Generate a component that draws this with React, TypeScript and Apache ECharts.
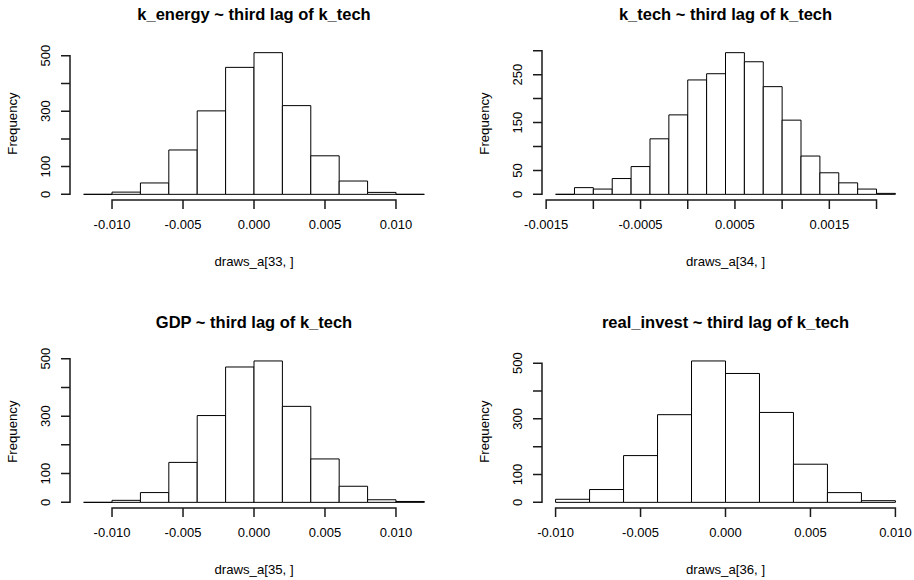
import React, { useEffect, useRef } from "react";
import * as echarts from "echarts";

const FONT = '"Liberation Sans", Arial, Helvetica, sans-serif';

// ---- data ----
const breaks33 = [-0.012, -0.01, -0.008, -0.006, -0.004, -0.002, 0, 0.002, 0.004, 0.006, 0.008, 0.01, 0.012];
const counts33 = [0, 8, 41, 160, 301, 458, 511, 320, 139, 48, 7, 0];

const breaks34 = [
  -0.0014, -0.0012, -0.001, -0.0008, -0.0006, -0.0004, -0.0002, 0, 0.0002, 0.0004,
  0.0006, 0.0008, 0.001, 0.0012, 0.0014, 0.0016, 0.0018, 0.002, 0.0022,
];
const counts34 = [0, 14, 11, 33, 58, 116, 166, 239, 252, 296, 277, 225, 155, 80, 45, 24, 11, 2];

const breaks35 = [-0.012, -0.01, -0.008, -0.006, -0.004, -0.002, 0, 0.002, 0.004, 0.006, 0.008, 0.01, 0.012];
const counts35 = [0, 7, 34, 139, 302, 471, 492, 334, 151, 56, 9, 3];

const breaks36 = [-0.01, -0.008, -0.006, -0.004, -0.002, 0, 0.002, 0.004, 0.006, 0.008, 0.01];
const counts36 = [11, 46, 168, 315, 508, 463, 323, 137, 35, 6];

const titles = [
  "k_energy ~ third lag of k_tech",
  "k_tech ~ third lag of k_tech",
  "GDP ~ third lag of k_tech",
  "real_invest ~ third lag of k_tech",
];
const xNames = ["draws_a[33, ]", "draws_a[34, ]", "draws_a[35, ]", "draws_a[36, ]"];
const yName = "Frequency";

const xTicksWide = [-0.01, -0.005, 0, 0.005, 0.01];
const xLabelsWide = [-0.01, -0.005, 0, 0.005, 0.01];
const xTicks34 = [-0.0015, -0.001, -0.0005, 0, 0.0005, 0.001, 0.0015, 0.002];
const xLabels34 = [-0.0015, -0.0005, 0.0005, 0.0015];
const yTicks500 = [0, 100, 200, 300, 400, 500];
const yLabels500 = [0, 100, 300, 500];
const yTicks300 = [0, 50, 100, 150, 200, 250, 300];
const yLabels300 = [0, 50, 150, 250];

// ---- layout ----
const TICK_LEN = 9;
const AXIS_W = 1.5;
const boxes = [
  { left: 70, top: 47, width: 368, height: 153 },
  { left: 542, top: 47, width: 367, height: 153 },
  { left: 70, top: 355.3, width: 368, height: 152.7 },
  { left: 542, top: 355.3, width: 367, height: 152.7 },
];

const panels = [
  { breaks: breaks33, counts: counts33, xTicks: xTicksWide, xLabels: xLabelsWide, dec: 3, yTicks: yTicks500, yLabels: yLabels500 },
  { breaks: breaks34, counts: counts34, xTicks: xTicks34, xLabels: xLabels34, dec: 4, yTicks: yTicks300, yLabels: yLabels300 },
  { breaks: breaks35, counts: counts35, xTicks: xTicksWide, xLabels: xLabelsWide, dec: 3, yTicks: yTicks500, yLabels: yLabels500 },
  { breaks: breaks36, counts: counts36, xTicks: xTicksWide, xLabels: xLabelsWide, dec: 3, yTicks: yTicks500, yLabels: yLabels500 },
];

function ranges(p: any) {
  const x0 = p.breaks[0];
  const x1 = p.breaks[p.breaks.length - 1];
  const xr = x1 - x0;
  const cmax = Math.max(...p.counts);
  return { xmin: x0 - 0.04 * xr, xmax: x1 + 0.04 * xr, ymin: -0.04 * cmax, ymax: 1.04 * cmax };
}

function textGraphics() {
  const g: any[] = [];
  panels.forEach((p, i) => {
    const b = boxes[i];
    const cx = b.left + b.width / 2;
    g.push({
      type: "text",
      x: cx,
      y: b.top - 33,
      style: { text: titles[i], font: `bold 16.5px ${FONT}`, fill: "#000", textAlign: "center", textVerticalAlign: "middle" },
    });
    g.push({
      type: "text",
      x: cx,
      y: b.top + b.height + 61,
      style: { text: xNames[i], font: `13.2px ${FONT}`, fill: "#000", textAlign: "center", textVerticalAlign: "middle" },
    });
    g.push({
      type: "text",
      x: b.left - 58,
      y: b.top + b.height / 2,
      rotation: Math.PI / 2,
      style: { text: yName, font: `13.2px ${FONT}`, fill: "#000", textAlign: "center", textVerticalAlign: "middle" },
    });
  });
  return g;
}

function buildOption() {
  const grid: any[] = [];
  const xAxis: any[] = [];
  const yAxis: any[] = [];
  const series: any[] = [];

  panels.forEach((p, i) => {
    const b = boxes[i];
    const r = ranges(p);

    grid.push({ left: b.left, top: b.top, width: b.width, height: b.height, outerBoundsMode: "none" });

    xAxis.push({
      type: "value",
      gridIndex: i,
      min: r.xmin,
      max: r.xmax,
      axisLine: { show: false, onZero: false },
      splitLine: { show: false },
      axisTick: { show: false },
      axisLabel: {
        customValues: p.xLabels,
        formatter: (v: number) => v.toFixed(p.dec),
        margin: 18,
        fontSize: 13,
        color: "#000",
        fontFamily: FONT,
      },
    });

    yAxis.push({
      type: "value",
      gridIndex: i,
      min: r.ymin,
      max: r.ymax,
      axisLine: { show: false, onZero: false },
      splitLine: { show: false },
      axisTick: { show: false },
      axisLabel: {
        customValues: p.yLabels,
        formatter: (v: number) => String(Math.round(v)),
        rotate: 90,
        margin: 18,
        fontSize: 13,
        color: "#000",
        fontFamily: FONT,
      },
    });

    // histogram bars
    series.push({
      type: "custom",
      xAxisIndex: i,
      yAxisIndex: i,
      clip: false,
      silent: true,
      encode: { x: [0, 1], y: 2 },
      data: p.counts.map((c, k) => [p.breaks[k], p.breaks[k + 1], c]),
      renderItem: (params: any, api: any) => {
        const a = api.coord([api.value(0), 0]);
        const bb = api.coord([api.value(1), api.value(2)]);
        return {
          type: "polygon",
          shape: { points: [[a[0], a[1]], [a[0], bb[1]], [bb[0], bb[1]], [bb[0], a[1]]] },
          style: { fill: "#fff", stroke: "#000", lineWidth: 1 },
        };
      },
    });
  });

  return {
    animation: false,
    backgroundColor: "#fff",
    textStyle: { fontFamily: FONT },
    grid,
    xAxis,
    yAxis,
    series,
    graphic: textGraphics(),
  };
}

// R-style axes: one polyline per axis running along the tick range and out to
// each tick, positioned through the chart's own scales.
function axisGraphics(chart: any) {
  const g: any[] = [];
  panels.forEach((p, i) => {
    const r = ranges(p);
    const px = (x: number, y: number) => {
      const c = chart.convertToPixel({ gridIndex: i }, [x, y]);
      return [Number(c[0]), Number(c[1])];
    };
    const xpts: number[][] = [];
    p.xTicks.forEach((t: number) => {
      const c = px(t, r.ymin);
      xpts.push([c[0], c[1]]);
      xpts.push([c[0], c[1] + TICK_LEN]);
      xpts.push([c[0], c[1]]);
    });
    g.push({ type: "polyline", silent: true, z: 100, shape: { points: xpts }, style: { stroke: "#1a1a1a", lineWidth: AXIS_W, fill: null } });
    const ypts: number[][] = [];
    p.yTicks.forEach((t: number) => {
      const c = px(r.xmin, t);
      ypts.push([c[0], c[1]]);
      ypts.push([c[0] - TICK_LEN, c[1]]);
      ypts.push([c[0], c[1]]);
    });
    g.push({ type: "polyline", silent: true, z: 100, shape: { points: ypts }, style: { stroke: "#1a1a1a", lineWidth: AXIS_W, fill: null } });
  });
  return g;
}

export default function App() {
  const ref = useRef<HTMLDivElement>(null);
  useEffect(() => {
    if (!ref.current) return;
    const chart = echarts.init(ref.current, undefined, { renderer: "svg" });
    chart.setOption(buildOption() as any);
    let extra: any[] = [];
    try {
      extra = axisGraphics(chart);
    } catch (e) {
      extra = [];
    }
    chart.setOption({ graphic: [...textGraphics(), ...extra] } as any, { replaceMerge: ["graphic"] } as any);
    return () => chart.dispose();
  }, []);
  return (
    <div
      ref={ref}
      style={{ position: "absolute", left: 0, top: 0, width: 914, height: 580, background: "#fff" }}
    />
  );
}
